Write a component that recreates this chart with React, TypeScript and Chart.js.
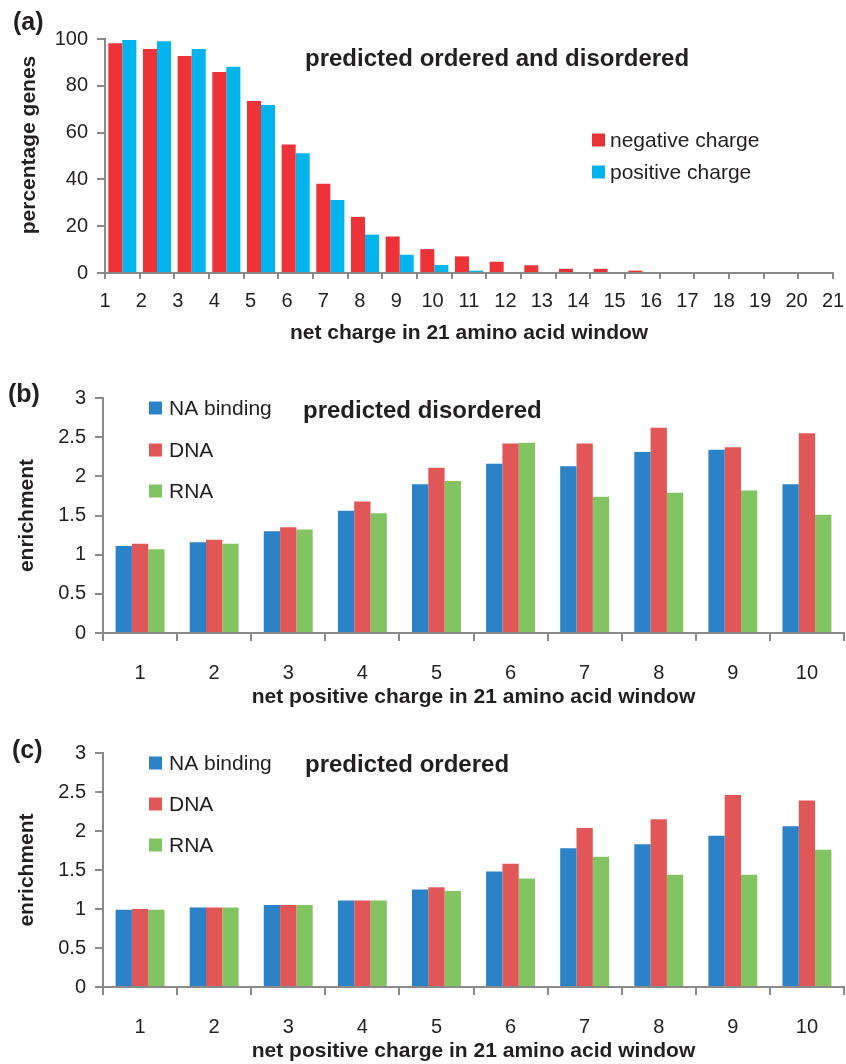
import React, { useEffect, useRef } from 'react';
import { Chart, registerables } from 'chart.js';

Chart.register(...registerables);

const FONT = '"Liberation Sans", Arial, Helvetica, sans-serif';
const TEXT = '#231F20';
const AXIS = '#8A8A8A';

// Panel (a)
const chargeCategories = ['1', '2', '3', '4', '5', '6', '7', '8', '9', '10', '11', '12', '13', '14', '15', '16', '17', '18', '19', '20', '21'];
const chargeTickLabels = ['1', '2', '3', '4', '5', '6', '7', '8', '9', '10', '11', '12', '13', '14', '15', '16', '17', '18', '19', '20', '21'];
const negativeCharge = [98.2, 95.7, 92.7, 85.9, 73.5, 54.9, 38.1, 24.0, 15.6, 10.2, 7.1, 4.8, 3.3, 1.8, 1.8, 1.0, 0, 0, 0, 0, 0];
const positiveCharge = [99.6, 99.0, 95.7, 88.1, 71.8, 51.2, 31.2, 16.4, 7.8, 3.4, 1.0, 0, 0, 0, 0, 0, 0, 0, 0, 0, 0];
const percentTicks = ['0', '20', '40', '60', '80', '100'];

// Panels (b) and (c)
const windowCategories = ['1', '2', '3', '4', '5', '6', '7', '8', '9', '10'];
const enrichmentTicks = ['0', '0.5', '1', '1.5', '2', '2.5', '3'];
const disorderedNA = [1.11, 1.16, 1.30, 1.56, 1.90, 2.16, 2.13, 2.31, 2.34, 1.90];
const disorderedDNA = [1.14, 1.19, 1.35, 1.68, 2.11, 2.42, 2.42, 2.62, 2.37, 2.55];
const disorderedRNA = [1.07, 1.14, 1.32, 1.53, 1.94, 2.43, 1.74, 1.79, 1.82, 1.51];
const orderedNA = [0.99, 1.02, 1.05, 1.11, 1.25, 1.48, 1.78, 1.83, 1.94, 2.06];
const orderedDNA = [1.0, 1.02, 1.05, 1.11, 1.28, 1.58, 2.04, 2.15, 2.46, 2.39];
const orderedRNA = [0.99, 1.02, 1.05, 1.11, 1.23, 1.39, 1.67, 1.44, 1.44, 1.76];

const RED_A = '#ED3338';
const BLUE_A = '#00B4EE';
const BLUE_B = '#2B82C7';
const RED_B = '#E15757';
const GREEN_B = '#81C461';

const overlayPlugin = {
  id: 'overlay',
  afterDraw(chart: any, _args: any, opts: any) {
    const ctx = chart.ctx;
    ctx.save();
    ctx.textBaseline = 'middle';
    ctx.textAlign = 'left';
    ctx.fillStyle = TEXT;
    ctx.font = `bold 25px ${FONT}`;
    ctx.fillText(opts.panel, opts.panelX, opts.panelY);
    ctx.font = `bold 24px ${FONT}`;
    ctx.fillText(opts.title, opts.titleX, opts.titleY);
    if (opts.yTitle) {
      ctx.save();
      ctx.font = `bold 21px ${FONT}`;
      ctx.textAlign = 'center';
      ctx.translate(opts.yTitleX, opts.yTitleY);
      ctx.rotate(-Math.PI / 2);
      ctx.fillText(opts.yTitle, 0, 0);
      ctx.restore();
    }
    ctx.font = `21px ${FONT}`;
    chart.data.datasets.forEach((ds: any, i: number) => {
      const y = opts.legendY[i];
      ctx.fillStyle = ds.backgroundColor;
      ctx.fillRect(opts.legendX, y - 6.5, 13, 13);
      ctx.fillStyle = TEXT;
      ctx.fillText(ds.label, opts.legendTextX, y + 1);
    });
    ctx.restore();
  },
};

const tickFont = { family: FONT, size: 20 };
const titleFont = { family: FONT, size: 21, weight: 'bold' as const };

function configA(): any {
  return {
    type: 'bar',
    data: {
      labels: chargeCategories,
      datasets: [
        { label: 'negative charge', data: negativeCharge, backgroundColor: RED_A, categoryPercentage: 0.81, barPercentage: 1.0 },
        { label: 'positive charge', data: positiveCharge, backgroundColor: BLUE_A, categoryPercentage: 0.81, barPercentage: 1.0 },
      ],
    },
    options: {
      responsive: false,
      animation: false,
      devicePixelRatio: 1,
      layout: { padding: { left: 0, right: 13, top: 39, bottom: 0 } },
      plugins: {
        legend: { display: false },
        tooltip: { enabled: false },
        overlay: {
          panel: '(a)', panelX: 13, panelY: 23,
          title: 'predicted ordered and disordered', titleX: 305, titleY: 59,
          yTitle: 'percentage genes', yTitleX: 29, yTitleY: 145,
          legendX: 592, legendTextX: 610, legendY: [140, 172],
        },
      },
      scales: {
        x: {
          type: 'category',
          offset: true,
          weight: 0,
          grid: { offset: true, drawOnChartArea: false, drawTicks: true, tickLength: 6, color: AXIS, lineWidth: 2 },
          border: { color: AXIS, width: 2 },
          ticks: { display: false },
          afterFit: (s: any) => { s.height = 8; },
        },
        x2: {
          type: 'linear',
          position: 'bottom',
          weight: 1,
          offset: false,
          min: 1,
          max: 21,
          grid: { display: false, offset: false },
          border: { display: false },
          ticks: {
            stepSize: 1, autoSkip: false, maxRotation: 0, color: TEXT, font: tickFont, padding: 0,
            callback: (_v: any, i: number) => chargeTickLabels[i],
          },
          title: { display: true, text: 'net charge in 21 amino acid window', color: TEXT, font: titleFont, padding: { top: 0, bottom: 4 } },
          afterFit: (s: any) => { s.height = 69; },
        },
        y: {
          min: 0,
          max: 100,
          grid: { drawOnChartArea: false, drawTicks: true, tickLength: 8, color: AXIS, lineWidth: 2 },
          border: { color: AXIS, width: 2 },
          ticks: { stepSize: 20, color: TEXT, font: tickFont, padding: 9, callback: (_v: any, i: number) => percentTicks[i] },
          title: { display: false },
          afterFit: (s: any) => { s.width = 105; },
        },
      },
    },
    plugins: [overlayPlugin],
  };
}

function configBC(
  panel: string, title: string, na: number[], dna: number[], rna: number[],
  top: number, xHeight: number, titleY: number, panelY: number, legendY: number[], titleX: number, panelX: number,
): any {
  return {
    type: 'bar',
    data: {
      labels: windowCategories,
      datasets: [
        { label: 'NA binding', data: na, backgroundColor: BLUE_B, categoryPercentage: 0.66, barPercentage: 1.0 },
        { label: 'DNA', data: dna, backgroundColor: RED_B, categoryPercentage: 0.66, barPercentage: 1.0 },
        { label: 'RNA', data: rna, backgroundColor: GREEN_B, categoryPercentage: 0.66, barPercentage: 1.0 },
      ],
    },
    options: {
      responsive: false,
      animation: false,
      devicePixelRatio: 1,
      layout: { padding: { left: 0, right: 2, top, bottom: 0 } },
      plugins: {
        legend: { display: false },
        tooltip: { enabled: false },
        overlay: {
          panel, panelX, panelY,
          title, titleX, titleY,
          legendX: 149, legendTextX: 169, legendY,
        },
      },
      scales: {
        x: {
          type: 'category',
          offset: true,
          grid: { offset: true, drawOnChartArea: false, drawTicks: true, tickLength: 8, color: AXIS, lineWidth: 2 },
          border: { color: AXIS, width: 2 },
          ticks: { color: TEXT, font: tickFont, padding: 20, maxRotation: 0 },
          title: { display: true, text: 'net positive charge in 21 amino acid window', color: TEXT, font: titleFont, padding: { top: 0, bottom: 0 } },
          afterFit: (s: any) => { s.height = xHeight; },
        },
        y: {
          min: 0,
          max: 3,
          grid: { drawOnChartArea: false, drawTicks: true, tickLength: 8, color: AXIS, lineWidth: 2 },
          border: { color: AXIS, width: 2 },
          ticks: { stepSize: 0.5, color: TEXT, font: tickFont, padding: 9, callback: (_v: any, i: number) => enrichmentTicks[i] },
          title: { display: true, text: 'enrichment', color: TEXT, font: titleFont, padding: { top: 15, bottom: 0 } },
          afterFit: (s: any) => { s.width = 103; },
        },
      },
    },
    plugins: [overlayPlugin],
  };
}

function Panel({ top, height, make }: { top: number; height: number; make: () => any }) {
  const ref = useRef<HTMLCanvasElement | null>(null);
  useEffect(() => {
    if (!ref.current) return;
    const chart = new Chart(ref.current, make());
    return () => chart.destroy();
  }, []);
  return (
    <canvas
      ref={ref}
      width={846}
      height={height}
      style={{ position: 'absolute', left: 0, top, width: 846, height, display: 'block' }}
    />
  );
}

export default function App() {
  return (
    <div style={{ position: 'absolute', left: 0, top: 0, width: 846, height: 1064, background: '#fff', overflow: 'hidden' }}>
      <Panel top={0} height={350} make={configA} />
      <Panel
        top={360}
        height={350}
        make={() => configBC('(b)', 'predicted disordered', disorderedNA, disorderedDNA, disorderedRNA, 38, 77, 51, 35, [48, 90, 131], 303, 8)}
      />
      <Panel
        top={715}
        height={349}
        make={() => configBC('(c)', 'predicted ordered', orderedNA, orderedDNA, orderedRNA, 38, 77, 50, 36, [48, 89, 130], 305, 12)}
      />
    </div>
  );
}
